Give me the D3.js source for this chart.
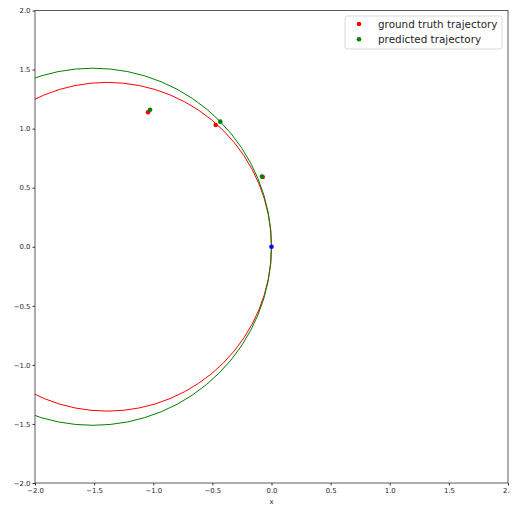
<!DOCTYPE html>
<html>
<head>
<meta charset="utf-8">
<script src="https://cdn.jsdelivr.net/npm/d3@7"></script>
<style>
  body { margin: 0; background: #fff; }
  text { font-family: "DejaVu Sans", sans-serif; fill: #262626; }
</style>
</head>
<body>
<script>
// ground truth / predicted points, plus the starting point
const truthX = [-1.044, -0.472, -0.074];
const truthY = [1.138, 1.031, 0.590];
const predX = [-1.027, -0.433, -0.081];
const predY = [1.160, 1.059, 0.595];
const startX = [0.0];
const startY = [0.0];

// fitted circles: centre x, centre y, radius
const truthCircle = [-1.39, 0.0, 1.39];
const predCircle = [-1.51, 0.0, 1.51];

const ticks = [-2.0, -1.5, -1.0, -0.5, 0.0, 0.5, 1.0, 1.5, 2.0];
const legendLabels = ['ground truth trajectory', 'predicted trajectory'];
const legendColors = ['red', 'green'];

const width = 515;
const height = 506;
const margin = { left: 35, right: 7, top: 10.5, bottom: 23 };

const x = d3.scaleLinear().domain([-2, 2]).range([margin.left, width - margin.right]);
const y = d3.scaleLinear().domain([-2, 2]).range([height - margin.bottom, margin.top]);

const svg = d3.select('body')
  .append('svg')
  .attr('width', width)
  .attr('height', height);

svg.append('clipPath')
  .attr('id', 'plot')
  .append('rect')
  .attr('x', x(-2))
  .attr('y', y(2))
  .attr('width', x(2) - x(-2))
  .attr('height', y(-2) - y(2));

// the source figure is cut just right of the last tick
svg.append('clipPath')
  .attr('id', 'page')
  .append('rect')
  .attr('x', 0)
  .attr('y', 0)
  .attr('width', 510)
  .attr('height', height);

const plot = svg.append('g').attr('clip-path', 'url(#plot)');

// circles
[[truthCircle, 'red'], [predCircle, 'green']].forEach(([c, col]) => {
  plot.append('circle')
    .attr('cx', x(c[0]))
    .attr('cy', y(c[1]))
    .attr('r', x(c[0] + c[2]) - x(c[0]))
    .attr('fill', 'none')
    .attr('stroke', col)
    .attr('stroke-width', 1);
});

// points
const drawPoints = (xs, ys, col) => {
  plot.selectAll(null)
    .data(xs.map((v, i) => [v, ys[i]]))
    .enter()
    .append('circle')
    .attr('cx', d => x(d[0]))
    .attr('cy', d => y(d[1]))
    .attr('r', 2.3)
    .attr('fill', col);
};
drawPoints(truthX, truthY, 'red');
drawPoints(predX, predY, 'green');
drawPoints(startX, startY, 'blue');

// axes
const xAxis = svg.append('g')
  .attr('clip-path', 'url(#page)')
  .append('g')
  .attr('transform', `translate(0,${y(-2)})`)
  .call(d3.axisBottom(x).tickValues(ticks).tickFormat(d3.format('.1f')).tickSize(2.5).tickPadding(2.5));
const yAxis = svg.append('g')
  .attr('transform', `translate(${x(-2)},0)`)
  .call(d3.axisLeft(y).tickValues(ticks).tickFormat(d3.format('.1f')).tickSize(2.5).tickPadding(2));

[xAxis, yAxis].forEach(a => {
  a.selectAll('text').style('font-size', '6.9px').attr('fill', '#262626');
  a.selectAll('line').attr('stroke', '#333');
  a.select('.domain').remove();
});

// frame
svg.append('rect')
  .attr('x', x(-2))
  .attr('y', y(2))
  .attr('width', x(2) - x(-2))
  .attr('height', y(-2) - y(2))
  .attr('fill', 'none')
  .attr('stroke', '#333')
  .attr('stroke-width', 0.8);

svg.append('text')
  .attr('x', x(0))
  .attr('y', 504)
  .attr('text-anchor', 'middle')
  .style('font-size', '6.9px')
  .text('x');

// legend
const legend = svg.append('g');
legend.append('rect')
  .attr('x', 345)
  .attr('y', 16)
  .attr('width', 157)
  .attr('height', 33)
  .attr('rx', 2)
  .attr('fill', 'white')
  .attr('fill-opacity', 0.8)
  .attr('stroke', '#d0d0d0')
  .attr('stroke-width', 0.8);

const rows = legend.selectAll('.row')
  .data(legendLabels)
  .enter()
  .append('g')
  .attr('transform', (d, i) => `translate(359,${24 + i * 15.3})`);

rows.append('circle')
  .attr('r', 2.3)
  .attr('fill', (d, i) => legendColors[i]);

rows.append('text')
  .attr('x', 19)
  .attr('dy', 3.8)
  .style('font-size', '10.4px')
  .text(d => d);
</script>
</body>
</html>
